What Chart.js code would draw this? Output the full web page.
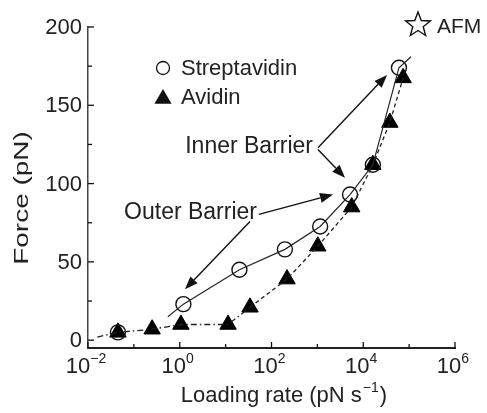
<!DOCTYPE html>
<html>
<head>
<meta charset="utf-8">
<script src="https://cdn.jsdelivr.net/npm/chart.js@4.4.1/dist/chart.umd.min.js"></script>
<style>
  html, body { margin: 0; padding: 0; background: #fff; }
  #wrap { width: 487px; height: 413px; position: relative; }
</style>
</head>
<body>
<div id="wrap"><canvas id="forceChart"></canvas></div>
<script>
// measured rupture forces (pN) vs loading rate (pN/s)
const streptRate = [0.045, 1.2, 20, 196, 1150, 5150, 16200, 60000];
const streptForce = [5, 23, 45, 58, 72.6, 93, 112, 174];
const avidinRate = [0.045, 0.25, 1.06, 11.3, 34, 218, 1020, 5600, 16200, 38000, 74000];
const avidinForce = [5, 7, 10, 10, 21, 39, 60, 85, 112, 139, 167.5];

// guide lines through each set
const streptFitRate = [0.55, 1.2, 20, 196, 1150, 5150, 16200, 60000, 110000];
const streptFitForce = [15, 23, 45, 58, 72.6, 93, 112, 174, 181];
const avidinFitRate = [0.016, 0.045, 0.25, 1.06, 11.3, 34, 218, 1020, 5600, 16200, 38000, 74000];
const avidinFitForce = [2, 5, 7, 10, 10, 21, 39, 60, 85, 112, 139, 167.5];

// axis ticks
const yMajorTicks = [0, 50, 100, 150, 200];
const yMinorTicks = [25, 75, 125, 175];
const xMajorExp = [-2, 0, 2, 4, 6];
const xMinorExp = [-1, 1, 3, 5];

// barrier notes and their arrows: [fromRate, fromForce, toRate, toForce]
const noteLabels = ["Inner Barrier", "Outer Barrier"];
const noteRate = [804, 48.3];
const noteForce = [123.6, 81.5];
const innerArrows = [[1030, 122.9, 33000, 169.4], [1030, 121.7, 4000, 103.8]];
const outerArrows = [[53, 80.3, 2190, 93], [34, 75.8, 1.3, 32.5]];

const FONT = "Liberation Sans, Arial, Helvetica, sans-serif";
const INK = "#111";

function toXY(a, b) {
    return a.map((v, i) => ({ x: v, y: b[i] }));
}

function drawTriangle(ctx, x, y, r) {
    ctx.beginPath();
    ctx.moveTo(x, y - r);
    ctx.lineTo(x + r * 0.95, y + r * 0.65);
    ctx.lineTo(x - r * 0.95, y + r * 0.65);
    ctx.closePath();
    ctx.fill();
}

function drawStar(ctx, cx, cy, R, r) {
    ctx.beginPath();
    for (let i = 0; i < 10; i++) {
        const rad = i % 2 === 0 ? R : r;
        const a = -Math.PI / 2 + i * Math.PI / 5;
        const px = cx + rad * Math.cos(a);
        const py = cy + rad * Math.sin(a);
        if (i === 0) ctx.moveTo(px, py); else ctx.lineTo(px, py);
    }
    ctx.closePath();
    ctx.stroke();
}

function drawArrow(ctx, x1, y1, x2, y2) {
    const ang = Math.atan2(y2 - y1, x2 - x1);
    const len = 13, half = 5;
    const bx = x2 - len * Math.cos(ang);
    const by = y2 - len * Math.sin(ang);
    ctx.beginPath();
    ctx.moveTo(x1, y1);
    ctx.lineTo(bx, by);
    ctx.stroke();
    ctx.beginPath();
    ctx.moveTo(x2, y2);
    ctx.lineTo(bx + half * Math.sin(ang), by - half * Math.cos(ang));
    ctx.lineTo(bx - half * Math.sin(ang), by + half * Math.cos(ang));
    ctx.closePath();
    ctx.fill();
}

const decorations = {
    id: "decorations",
    afterDraw(chart) {
        const ctx = chart.ctx;
        const xs = chart.scales.x, ys = chart.scales.y;
        const area = chart.chartArea;
        ctx.save();
        ctx.strokeStyle = INK;
        ctx.fillStyle = INK;
        ctx.lineWidth = 1.3;

        // inward ticks
        yMajorTicks.forEach(v => {
            const py = ys.getPixelForValue(v);
            ctx.beginPath(); ctx.moveTo(area.left, py); ctx.lineTo(area.left + 6, py); ctx.stroke();
        });
        yMinorTicks.forEach(v => {
            const py = ys.getPixelForValue(v);
            ctx.beginPath(); ctx.moveTo(area.left, py); ctx.lineTo(area.left + 4, py); ctx.stroke();
        });
        xMajorExp.forEach(e => {
            const px = xs.getPixelForValue(Math.pow(10, e));
            ctx.beginPath(); ctx.moveTo(px, area.bottom); ctx.lineTo(px, area.bottom - 6); ctx.stroke();
        });
        xMinorExp.forEach(e => {
            const px = xs.getPixelForValue(Math.pow(10, e));
            ctx.beginPath(); ctx.moveTo(px, area.bottom); ctx.lineTo(px, area.bottom - 4); ctx.stroke();
        });

        // y tick labels
        ctx.font = "22px " + FONT;
        ctx.fillStyle = "#222";
        ctx.textAlign = "right";
        ctx.textBaseline = "middle";
        yMajorTicks.forEach(v => {
            ctx.fillText(String(v), area.left - 6, ys.getPixelForValue(v) + 1);
        });

        // x tick labels as 10 with raised exponent
        ctx.textBaseline = "alphabetic";
        ctx.textAlign = "left";
        xMajorExp.forEach(e => {
            const px = xs.getPixelForValue(Math.pow(10, e));
            const exp = e < 0 ? "\u2212" + Math.abs(e) : String(e);
            ctx.font = "22px " + FONT;
            const wBase = ctx.measureText("10").width;
            ctx.font = "14px " + FONT;
            const wExp = ctx.measureText(exp).width;
            const x0 = px - (wBase + wExp) / 2 - 2;
            ctx.font = "22px " + FONT;
            ctx.fillText("10", x0, area.bottom + 25);
            ctx.font = "14px " + FONT;
            ctx.fillText(exp, x0 + wBase, area.bottom + 15);
        });

        // x axis title
        const t1 = "Loading rate (pN s", t2 = "\u22121", t3 = ")";
        ctx.font = "22px " + FONT;
        const w1 = ctx.measureText(t1).width, w3 = ctx.measureText(t3).width;
        ctx.font = "14px " + FONT;
        const w2 = ctx.measureText(t2).width;
        let tx = 283 - (w1 + w2 + w3) / 2;
        ctx.font = "22px " + FONT;
        ctx.fillText(t1, tx, 402);
        ctx.font = "14px " + FONT;
        ctx.fillText(t2, tx + w1 + 1, 392);
        ctx.font = "22px " + FONT;
        ctx.fillText(t3, tx + w1 + w2 + 2, 402);

        // y axis title, drawn rotated
        ctx.save();
        ctx.translate(22, 198);
        ctx.rotate(-Math.PI / 2);
        ctx.scale(1.33, 1);
        ctx.font = "21px " + FONT;
        ctx.textAlign = "center";
        ctx.textBaseline = "middle";
        ctx.fillText("Force (pN)", 0, 0);
        ctx.restore();

        // legend
        ctx.fillStyle = INK;
        ctx.lineWidth = 1.3;
        ctx.beginPath(); ctx.arc(163, 68, 6.5, 0, Math.PI * 2); ctx.stroke();
        drawTriangle(ctx, 163, 98, 9);
        ctx.fillStyle = "#222";
        ctx.font = "22px " + FONT;
        ctx.textAlign = "left";
        ctx.textBaseline = "middle";
        ctx.fillText("Streptavidin", 181, 69);
        ctx.fillText("Avidin", 181, 98);

        // AFM marker
        ctx.lineWidth = 1.4;
        drawStar(ctx, 418, 25, 13, 5.5);
        ctx.font = "21px " + FONT;
        ctx.fillText("AFM", 437, 27);

        // barrier notes
        ctx.font = "23px " + FONT;
        ctx.textAlign = "right";
        noteLabels.forEach((s, i) => {
            ctx.fillText(s, xs.getPixelForValue(noteRate[i]), ys.getPixelForValue(noteForce[i]));
        });
        ctx.fillStyle = INK;
        ctx.lineWidth = 1.4;
        innerArrows.concat(outerArrows).forEach(a => {
            drawArrow(ctx,
                xs.getPixelForValue(a[0]), ys.getPixelForValue(a[1]),
                xs.getPixelForValue(a[2]), ys.getPixelForValue(a[3]));
        });
        ctx.restore();
    }
};

const ctx = document.getElementById("forceChart").getContext("2d");
const chart = new Chart(ctx, {
    type: "scatter",
    data: {
        datasets: [
            {
                label: "Streptavidin fit",
                data: toXY(streptFitRate, streptFitForce),
                showLine: true,
                borderColor: "#222",
                borderWidth: 1.2,
                pointRadius: 0,
                clip: false
            },
            {
                label: "Avidin fit",
                data: toXY(avidinFitRate, avidinFitForce),
                showLine: true,
                borderColor: "#222",
                borderWidth: 1.3,
                pointRadius: 0,
                clip: false,
                segment: {
                    borderDash: c => c.p0.parsed.x < 20 ? [6, 3, 1.5, 3] : [4, 3]
                }
            },
            {
                label: "Streptavidin",
                data: toXY(streptRate, streptForce),
                pointStyle: "circle",
                pointRadius: 7.5,
                pointBorderWidth: 1.4,
                pointBorderColor: "#111",
                pointBackgroundColor: "rgba(255,255,255,0)",
                clip: false
            },
            {
                label: "Avidin",
                data: toXY(avidinRate, avidinForce),
                pointStyle: "triangle",
                pointRadius: 9.5,
                pointBorderWidth: 1,
                pointBorderColor: "#000",
                pointBackgroundColor: "#000",
                clip: false
            }
        ]
    },
    options: {
        responsive: true,
        maintainAspectRatio: false,
        animation: false,
        layout: { padding: { left: 88, right: 32, top: 27, bottom: 65 } },
        plugins: {
            legend: { display: false },
            tooltip: { enabled: false }
        },
        scales: {
            x: {
                type: "logarithmic",
                min: 0.01,
                max: 1e6,
                ticks: { display: false },
                grid: { display: false, drawTicks: false },
                border: { display: true, color: "#222", width: 2 }
            },
            y: {
                type: "linear",
                min: -5,
                max: 200,
                ticks: { display: false },
                grid: { display: false, drawTicks: false },
                border: { display: true, color: "#444", width: 1.5 }
            }
        }
    },
    plugins: [decorations]
});
</script>
</body>
</html>
